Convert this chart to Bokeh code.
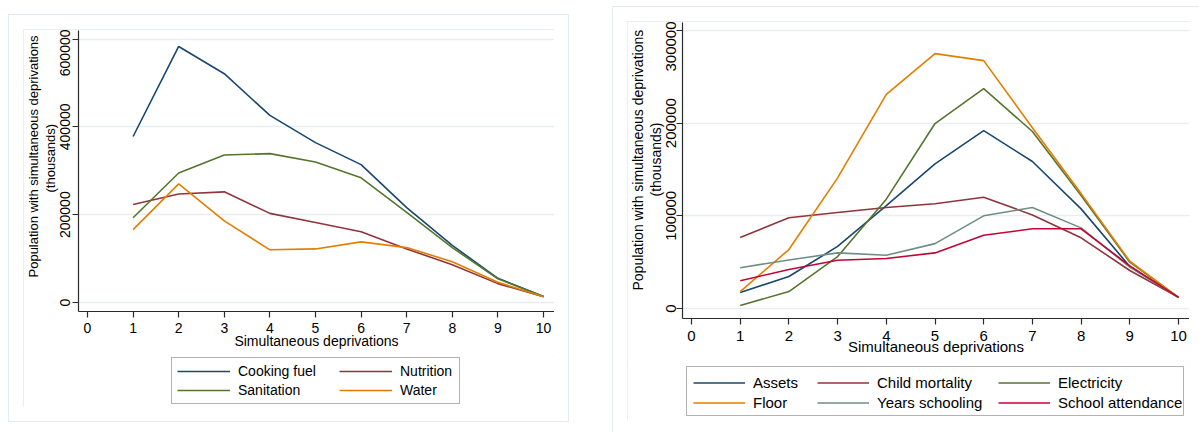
from bokeh.embed import file_html
from bokeh.layouts import column, row
from bokeh.models import (BasicTickFormatter, BoxAnnotation, FixedTicker, Legend,
                          LegendItem, Range1d, Title)
from bokeh.plotting import figure
from bokeh.resources import INLINE

# ---------------------------------------------------------------------------
# Data: population (thousands) facing k simultaneous deprivations
# ---------------------------------------------------------------------------
deprivations = [1, 2, 3, 4, 5, 6, 7, 8, 9, 10]

# left panel
cooking_fuel = [378000, 583000, 521000, 426000, 364000, 314000, 216000, 130000, 55000, 13500]
nutrition = [223000, 247000, 252000, 203000, 182000, 161000, 122000, 86000, 43000, 13000]
sanitation = [193000, 295000, 336000, 339000, 320000, 284000, 205000, 125000, 54000, 13500]
water = [166000, 270000, 186000, 120000, 122000, 138000, 125000, 93000, 46000, 13000]

# right panel
assets = [17300, 34500, 67000, 111000, 156000, 192000, 158600, 107500, 45300, 12000]
child_mortality = [76600, 98000, 103600, 109000, 113000, 120000, 101000, 76300, 41000, 12000]
electricity = [3200, 18300, 56000, 118000, 199600, 237300, 191000, 122000, 50000, 12000]
floor = [18300, 63600, 141000, 231000, 275000, 267500, 195000, 124000, 51000, 12000]
years_schooling = [44000, 52400, 60000, 57500, 70000, 100000, 109000, 87000, 44600, 12000]
school_attendance = [30000, 42000, 52000, 54000, 60000, 79000, 86000, 86000, 46000, 12000]

x_ticks = [0, 1, 2, 3, 4, 5, 6, 7, 8, 9, 10]
left_y_ticks = [0, 200000, 400000, 600000]
right_y_ticks = [0, 100000, 200000, 300000]

x_title = "Simultaneous deprivations"
y_title_1 = "Population with simultaneous deprivations"
y_title_2 = "(thousands)"

# ---------------------------------------------------------------------------
# Styling
# ---------------------------------------------------------------------------
FONT = "Liberation Sans"
NAVY = "#1a476f"
MAROON = "#90353b"
FOREST = "#55752f"
ORANGE = "#e37e00"
TEAL = "#6e8e84"
CRANBERRY = "#c10534"
AXIS = "#2a2a2a"
GRID = "#e6eef1"
FRAME = "#e3ebee"
LINE_W = 1.6

# inner graph-region outline plus the outer (graph) outline 15px further out
frame_css = {
    "outline": f"1px solid {FRAME}",
    "outline-offset": "-1px",
    "box-shadow": f"0 0 0 14px #ffffff, 0 0 0 15px {FRAME}",
}


def chart(width, height, x_range, y_range, y_ticks, border_bottom, fs, y_gap,
          x_gap, x_title_gap, title_fs, title_starts):
    p = figure(width=width, height=height, output_backend="svg", toolbar_location=None,
               x_range=Range1d(*x_range), y_range=Range1d(*y_range),
               min_border_left=55, min_border_right=0, min_border_top=1,
               min_border_bottom=border_bottom)
    p.outline_line_color = None
    p.background_fill_color = "white"
    p.border_fill_color = "white"
    p.xgrid.visible = False
    p.ygrid.ticker = FixedTicker(ticks=y_ticks)
    p.ygrid.grid_line_color = GRID
    p.ygrid.grid_line_width = 1.5

    p.xaxis.ticker = FixedTicker(ticks=x_ticks)
    p.yaxis.ticker = FixedTicker(ticks=y_ticks)
    p.yaxis.formatter = BasicTickFormatter(use_scientific=False)
    p.yaxis.major_label_orientation = "vertical"
    for ax in (p.xaxis[0], p.yaxis[0]):
        ax.axis_line_color = AXIS
        ax.axis_line_width = 1.2
        ax.major_tick_line_color = AXIS
        ax.major_tick_line_width = 1.2
        ax.major_tick_out = 6
        ax.major_tick_in = 0
        ax.minor_tick_line_color = None
        ax.major_label_text_font = FONT
        ax.major_label_text_font_size = fs
        ax.major_label_text_color = "black"
    p.xaxis.major_label_standoff = x_gap
    p.yaxis.major_label_standoff = y_gap

    p.xaxis.axis_label = x_title
    p.xaxis.axis_label_text_font = FONT
    p.xaxis.axis_label_text_font_size = fs
    p.xaxis.axis_label_text_font_style = "normal"
    p.xaxis.axis_label_text_color = "black"
    p.xaxis.axis_label_standoff = x_title_gap

    # two-line y title, inner line first (side panels stack outwards);
    # each line starts title_starts px above the bottom of the plot area
    for txt, start in zip((y_title_2, y_title_1), title_starts):
        p.add_layout(Title(text=txt, align="left", offset=start, standoff=0,
                           text_font=FONT, text_font_size=title_fs,
                           text_font_style="normal", text_color="black"), "left")
    return p


def legend_strip(width, height, entries, col_x, box, fs, glyph_w, row_h, y0):
    """Legend area under a chart: one legend per column inside a framed box.

    The strip's frame lines up with the chart frame above it, so x positions
    are pixels from the chart's y axis and y positions pixels from the bottom.
    """
    frame_w = width - 55
    s = figure(width=width, height=height, output_backend="svg", toolbar_location=None,
               x_range=Range1d(0, frame_w), y_range=Range1d(0, height),
               x_axis_type=None, y_axis_type=None, min_border=0,
               min_border_left=55, min_border_right=0)
    s.outline_line_color = None
    s.background_fill_color = "white"
    s.border_fill_color = "white"
    left, right, top, bottom = box
    s.add_layout(BoxAnnotation(left=left, right=right, top=top, bottom=bottom,
                               fill_color=None, fill_alpha=0, line_color="black",
                               line_width=1))
    for x, col in zip(col_x, entries):
        items = []
        for label, values, color in col:
            # same series as in the chart; it falls outside this strip's ranges,
            # only its legend swatch shows
            r = s.line(deprivations, values, line_color=color, line_width=LINE_W)
            items.append(LegendItem(label=label, renderers=[r]))
        s.add_layout(Legend(items=items, location=(x, y0), orientation="vertical",
                            border_line_color=None, background_fill_alpha=0,
                            padding=0, margin=0, spacing=3, glyph_width=glyph_w,
                            glyph_height=row_h, label_height=row_h,
                            label_standoff=8, label_text_font=FONT,
                            label_text_font_size=fs, label_text_color="black"))
    return s


# ---------------------------------------------------------------------------
# Left panel: cooking fuel, nutrition, sanitation, water
# ---------------------------------------------------------------------------
left = chart(531, 326, (-0.197, 10.241), (-20500, 619400), left_y_ticks, 44, "14px",
             2, 5, -3, "13px", (119, 34))
left.line(deprivations, cooking_fuel, line_color=NAVY, line_width=LINE_W)
left.line(deprivations, nutrition, line_color=MAROON, line_width=LINE_W)
left.line(deprivations, sanitation, line_color=FOREST, line_width=LINE_W)
left.line(deprivations, water, line_color=ORANGE, line_width=LINE_W)

left_legend = legend_strip(
    531, 52,
    [[("Cooking fuel", cooking_fuel, NAVY), ("Sanitation", sanitation, FOREST)],
     [("Nutrition", nutrition, MAROON), ("Water", water, ORANGE)]],
    [99, 261], (93, 381, 50, 4), "14px", 53, 16, 9)

left_panel = column(left, left_legend, spacing=0)
left_panel.margin = (29, 0, 0, 23)
left_panel.styles = frame_css

# ---------------------------------------------------------------------------
# Right panel: assets, child mortality, electricity, floor, schooling
# ---------------------------------------------------------------------------
right = chart(562, 341, (-0.185, 10.226), (-10790, 308630), right_y_ticks, 44, "15px",
              0, 6, -6, "14px", (122, 28))
right.line(deprivations, assets, line_color=NAVY, line_width=LINE_W)
right.line(deprivations, child_mortality, line_color=MAROON, line_width=LINE_W)
right.line(deprivations, electricity, line_color=FOREST, line_width=LINE_W)
right.line(deprivations, floor, line_color=ORANGE, line_width=LINE_W)
right.line(deprivations, years_schooling, line_color=TEAL, line_width=LINE_W)
right.line(deprivations, school_attendance, line_color=CRANBERRY, line_width=LINE_W)

right_legend = legend_strip(
    562, 58,
    [[("Assets", assets, NAVY), ("Floor", floor, ORANGE)],
     [("Child mortality", child_mortality, MAROON),
      ("Years schooling", years_schooling, TEAL)],
     [("Electricity", electricity, FOREST),
      ("School attendance", school_attendance, CRANBERRY)]],
    [11, 135, 316], (4, 501, 54, 5), "15px", 52, 17, 9.5)

right_panel = column(right, right_legend, spacing=0)
right_panel.margin = (21, 0, 0, 73)
right_panel.styles = frame_css

layout = row(left_panel, right_panel, spacing=0)
open("out.html", "w").write(file_html(layout, INLINE))
